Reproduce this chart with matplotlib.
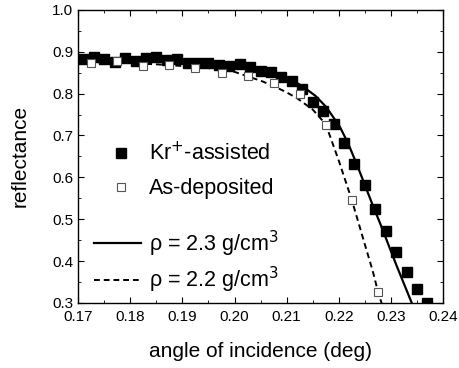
import numpy as np
import matplotlib.pyplot as plt
from matplotlib.ticker import MultipleLocator, FormatStrFormatter
from matplotlib.lines import Line2D

plt.rcParams['font.family'] = ['Liberation Sans', 'DejaVu Sans']

# Kr+-assisted film (filled squares)
kr_angle = [0.171, 0.173, 0.175, 0.177, 0.179, 0.181, 0.183, 0.185, 0.187, 0.189,
            0.191, 0.193, 0.195, 0.197, 0.199, 0.201, 0.203, 0.205, 0.207, 0.209,
            0.211, 0.213, 0.215, 0.217, 0.219, 0.221, 0.223, 0.225, 0.227, 0.229,
            0.231, 0.233, 0.235, 0.237]
kr_refl = [0.882, 0.888, 0.882, 0.876, 0.886, 0.878, 0.884, 0.888, 0.880, 0.882,
           0.872, 0.872, 0.872, 0.868, 0.866, 0.870, 0.864, 0.854, 0.852, 0.840,
           0.830, 0.810, 0.780, 0.759, 0.727, 0.681, 0.631, 0.582, 0.524, 0.472,
           0.421, 0.373, 0.333, 0.300]

# as-deposited film (open squares)
as_angle = [0.1725, 0.1775, 0.1825, 0.1875, 0.1925, 0.1975, 0.2025, 0.2075,
            0.2125, 0.2175, 0.2225, 0.2275]
as_refl = [0.874, 0.878, 0.866, 0.868, 0.861, 0.849, 0.842, 0.826,
           0.798, 0.725, 0.546, 0.327]

# fitted curves
fit23_angle = [0.170, 0.175, 0.180, 0.185, 0.190, 0.195, 0.200, 0.203, 0.206, 0.209,
               0.211, 0.213, 0.2155, 0.2176, 0.2202, 0.2218, 0.2234, 0.2250, 0.2265,
               0.2280, 0.2295, 0.2310, 0.2325, 0.2340, 0.2350]
fit23_refl = [0.886, 0.884, 0.882, 0.880, 0.877, 0.873, 0.867, 0.862, 0.854, 0.843,
              0.832, 0.818, 0.795, 0.768, 0.721, 0.681, 0.633, 0.582, 0.534,
              0.488, 0.440, 0.392, 0.346, 0.300, 0.272]

fit22_angle = [0.170, 0.175, 0.180, 0.185, 0.190, 0.195, 0.200, 0.2026, 0.2052, 0.2077,
               0.2100, 0.2120, 0.2150, 0.2175, 0.2200, 0.2225, 0.2250, 0.2265, 0.2275,
               0.2282, 0.2290]
fit22_refl = [0.876, 0.875, 0.873, 0.870, 0.866, 0.861, 0.852, 0.841, 0.830, 0.817,
              0.803, 0.789, 0.762, 0.727, 0.640, 0.546, 0.440, 0.377, 0.328,
              0.300, 0.272]

fig = plt.figure(figsize=(4.6, 3.68), dpi=100)
ax = fig.add_axes([0.170, 0.177, 0.793, 0.796])

ax.plot(fit23_angle, fit23_refl, color='black', lw=1.6, ls='-')
ax.plot(fit22_angle, fit22_refl, color='black', lw=1.4, ls=(0, (3, 2)))
ax.plot(kr_angle, kr_refl, ls='none', marker='s', ms=6.5, mfc='black', mec='black')
ax.plot(as_angle, as_refl, ls='none', marker='s', ms=6, mfc='white', mec='#555555', mew=0.8)

ax.set_xlim(0.17, 0.24)
ax.set_ylim(0.3, 1.0)
ax.xaxis.set_major_locator(MultipleLocator(0.01))
ax.xaxis.set_minor_locator(MultipleLocator(0.005))
ax.yaxis.set_major_locator(MultipleLocator(0.1))
ax.yaxis.set_minor_locator(MultipleLocator(0.05))
ax.xaxis.set_major_formatter(FormatStrFormatter('%.2f'))
ax.yaxis.set_major_formatter(FormatStrFormatter('%.1f'))
ax.tick_params(which='both', direction='in', top=True, right=True, labelsize=11)
ax.tick_params(which='major', length=4)
ax.tick_params(which='minor', length=2.5)
ax.tick_params(axis='x', which='major', pad=5)
for s in ax.spines.values():
    s.set_linewidth(1.0)

ax.set_xlabel('angle of incidence (deg)', fontsize=15, labelpad=13)
ax.set_ylabel('reflectance', fontsize=15, labelpad=16)

sym_handles = [Line2D([], [], ls='none', marker='s', ms=6.5, mfc='black', mec='black'),
               Line2D([], [], ls='none', marker='s', ms=6, mfc='white', mec='#555555', mew=0.8)]
leg1 = ax.legend(sym_handles, ['Kr$^{+}$-assisted', 'As-deposited'], loc='upper left',
                 bbox_to_anchor=(0.03, 0.615), frameon=False, fontsize=15.5,
                 handlelength=1.2, handletextpad=0.7, labelspacing=0.6)
ax.add_artist(leg1)
line_handles = [Line2D([], [], color='black', lw=1.6, ls='-'),
                Line2D([], [], color='black', lw=1.4, ls=(0, (3, 2)))]
ax.legend(line_handles, ['ρ = 2.3 g/cm$^{3}$', 'ρ = 2.2 g/cm$^{3}$'], loc='upper left',
          bbox_to_anchor=(-0.01, 0.32), frameon=False, fontsize=15.5,
          handlelength=2.2, handletextpad=0.35, labelspacing=0.3)

fig.savefig('out.png', dpi=100)
